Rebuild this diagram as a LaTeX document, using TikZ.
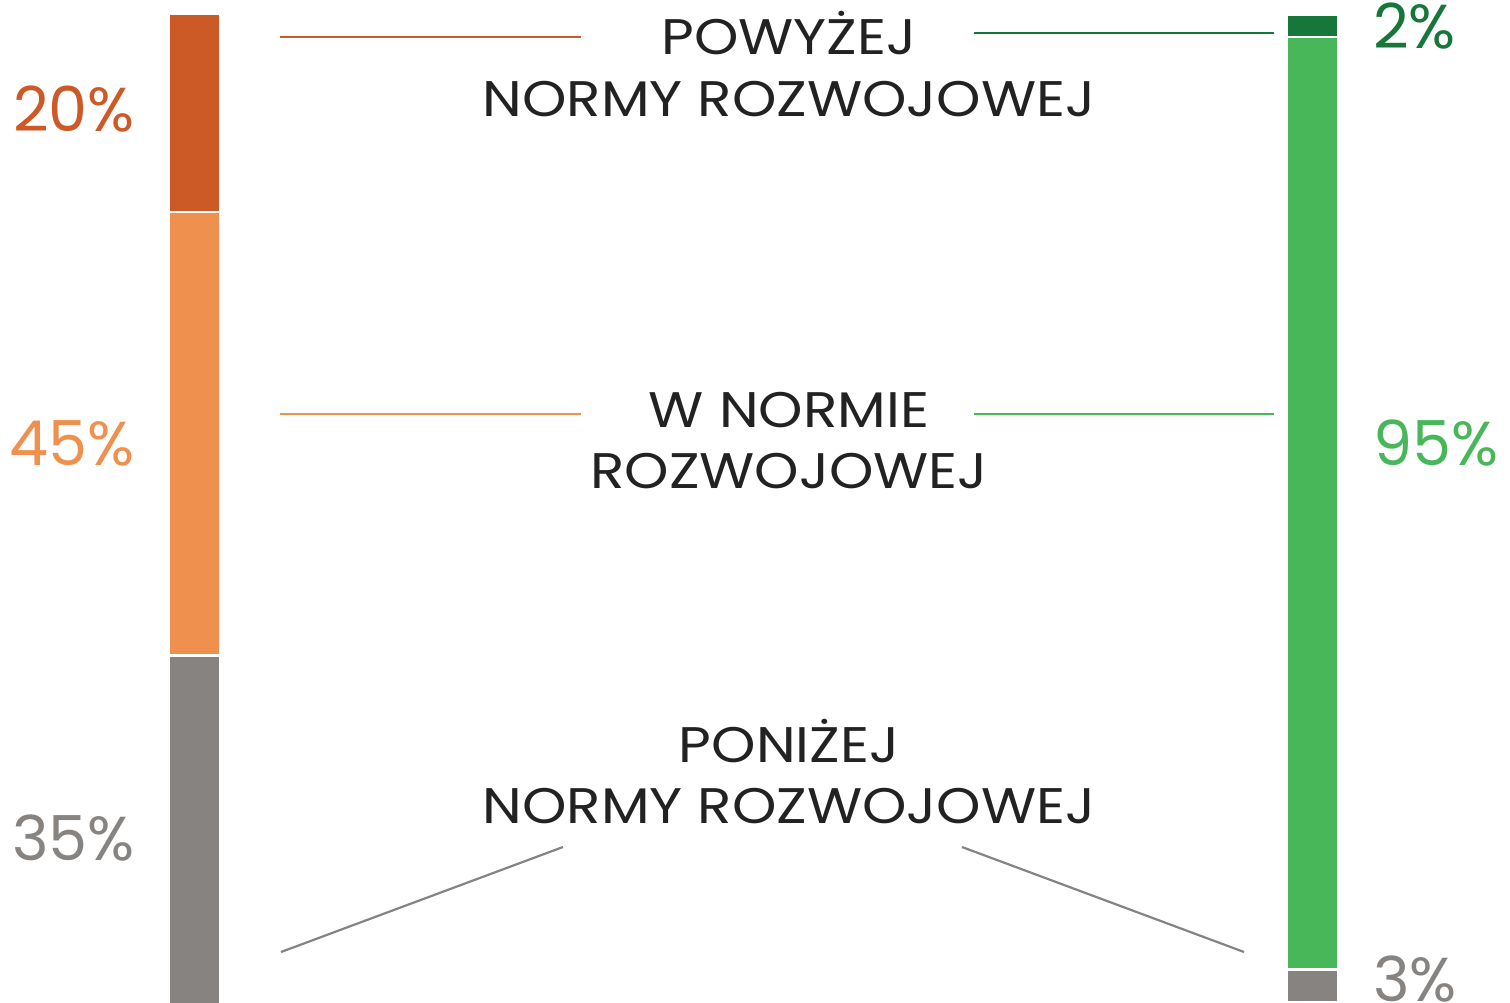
\documentclass[tikz,border=0pt]{standalone}
\usepackage{fontspec}
\setmainfont{Poppins}
\newfontfamily\labelfont[FakeStretch=1.13]{Poppins}
\newfontfamily\pctfont{Poppins}
\usetikzlibrary{positioning}
\definecolor{rustorange}{HTML}{CB5A27}
\definecolor{lightorange}{HTML}{F0904E}
\definecolor{warmgray}{HTML}{878380}
\definecolor{darkgreen}{HTML}{17763A}
\definecolor{lightgreen}{HTML}{47B75A}
\definecolor{inktext}{HTML}{222222}

\begin{document}
\begin{tikzpicture}[
      x=1pt,y=-1pt,
      percent/.style={
         inner sep=0pt,
         text=#1,
         font=\pctfont\fontsize{62}{70}\selectfont
      },
      leftpct/.style={percent=#1, anchor=base east},
      rightpct/.style={percent=#1, anchor=base west},
      category/.style={
         inner sep=0pt,
         anchor=base,
         text=inktext,
         font=\labelfont\fontsize{50}{62}\selectfont
      },
      leader/.style={draw=#1, line width=2.2pt}
    ]
    \useasboundingbox (0,0) rectangle (1510,1003);
    % left bar
    \fill[rustorange]  (170,15)  rectangle (219,211);
    \fill[lightorange] (170,213) rectangle (219,654);
    \fill[warmgray]    (170,657) rectangle (219,1003);
    % right bar
    \fill[darkgreen]  (1288,16)  rectangle (1337,36);
    \fill[lightgreen] (1288,38)  rectangle (1337,968);
    \fill[warmgray]   (1288,971) rectangle (1337,1001);

    \node (p20) [leftpct=rustorange]  at (135,132) {20\%};
    \node (p45) [leftpct=lightorange] at (135,465) {45\%};
    \node (p35) [leftpct=warmgray]    at (135,860) {35\%};
    \node (p2)  [rightpct=darkgreen]  at (1373,49)  {2\%};
    \node (p95) [rightpct=lightgreen] at (1373,465) {95\%};
    \node (p3)  [rightpct=warmgray]   at (1373,1001) {3\%};

    \node (above1) [category] at (789,55)  {POWYŻEJ};
    \node (above2) [category] at (789,117) {NORMY ROZWOJOWEJ};
    \node (norm1)  [category] at (789,427) {W NORMIE};
    \node (norm2)  [category] at (789,488) {ROZWOJOWEJ};
    \node (below1) [category] at (789,762) {PONIŻEJ};
    \node (below2) [category] at (789,823) {NORMY ROZWOJOWEJ};

    \coordinate (al) at (280,37);   \coordinate (ar) at (581,37);
    \coordinate (bl) at (974,33);   \coordinate (br) at (1274,33);
    \coordinate (cl) at (280,414);  \coordinate (cr) at (581,414);
    \coordinate (dl) at (974,414);  \coordinate (dr) at (1274,414);
    \coordinate (el) at (281,952);  \coordinate (er) at (563,847);
    \coordinate (fl) at (962,847);  \coordinate (fr) at (1244,952);

    \draw[leader=rustorange]  (al) -- (ar);
    \draw[leader=darkgreen]   (bl) -- (br);
    \draw[leader=lightorange] (cl) -- (cr);
    \draw[leader=lightgreen]  (dl) -- (dr);
    \draw[leader=warmgray]    (el) -- (er);
    \draw[leader=warmgray]    (fl) -- (fr);
\end{tikzpicture}
\end{document}
